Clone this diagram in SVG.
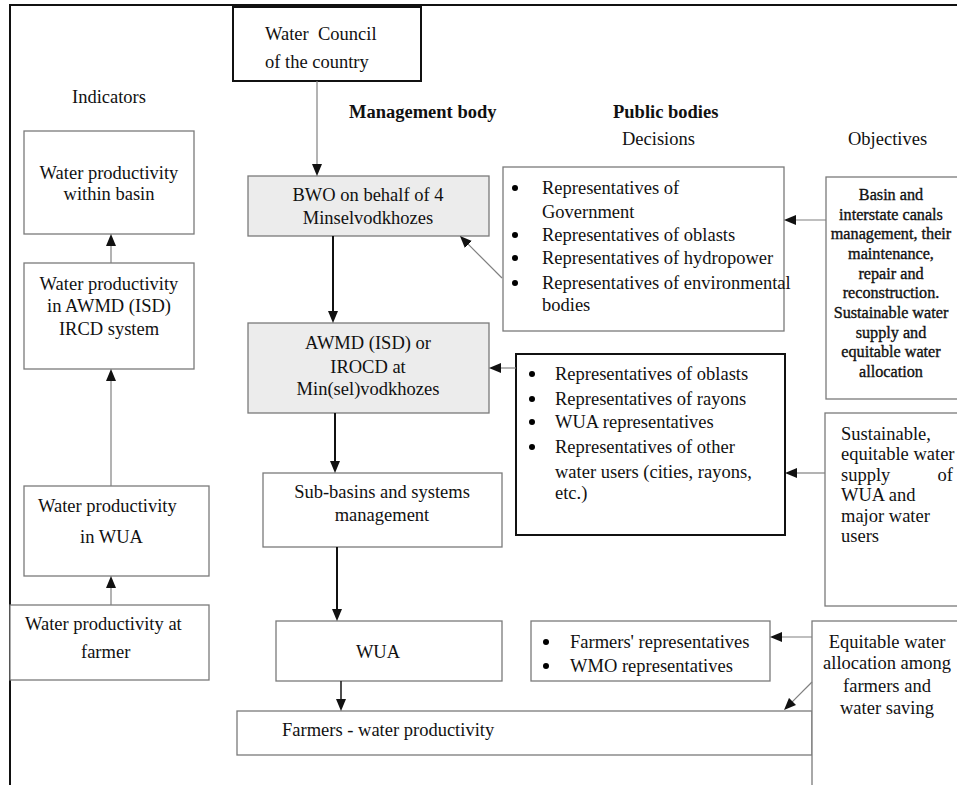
<svg xmlns="http://www.w3.org/2000/svg" width="957" height="785" viewBox="0 0 957 785">
<style>
text{font-family:"Liberation Serif","Times New Roman",serif;font-size:18.5px;fill:#111}
.b{font-weight:bold}
.m{text-anchor:middle}
.e{text-anchor:end}
.obj{font-size:16.2px;text-anchor:middle;stroke:#111;stroke-width:0.35}
.box{fill:#fff;stroke:#7a7a7a;stroke-width:1.3}
.gbox{fill:#ececec;stroke:#7a7a7a;stroke-width:1.3}
.kbox{fill:#fff;stroke:#111;stroke-width:2}
.thin{stroke:#808080;stroke-width:1.2;fill:none}
.thick{stroke:#111;stroke-width:2;fill:none}
.mid{stroke:#222;stroke-width:1.6;fill:none}
</style>
<defs>
<marker id="ah" viewBox="0 0 12 10" markerWidth="12" markerHeight="10" refX="4" refY="5" orient="auto" markerUnits="userSpaceOnUse">
<path d="M0,0 L12,5 L0,10 z" fill="#111"/>
</marker>
</defs>
<rect width="957" height="785" fill="#fff"/>
<g id="frame">
<line x1="10" y1="5" x2="957" y2="5" stroke="#111" stroke-width="2"/>
<line x1="10" y1="4" x2="10" y2="785" stroke="#111" stroke-width="2"/>
</g>
<g id="headings">
<text x="72" y="103">Indicators</text>
<text x="349" y="118" class="b">Management body</text>
<text x="613" y="118" class="b">Public bodies</text>
<text x="622" y="145">Decisions</text>
<text x="848" y="145">Objectives</text>
</g>
<g id="council">
<rect x="233" y="7" width="188" height="74" class="kbox"/>
<text x="265" y="40" xml:space="preserve">Water  Council</text>
<text x="265" y="68">of the country</text>
</g>
<g id="ind-basin">
<rect x="24" y="131" width="170" height="103" class="box"/>
<text x="109" y="179" class="m">Water productivity</text>
<text x="109" y="200" class="m">within basin</text>
</g>
<g id="ind-awmd">
<rect x="24" y="263" width="170" height="106" class="box"/>
<text x="109" y="290" class="m">Water productivity</text>
<text x="109" y="312" class="m">in AWMD (ISD)</text>
<text x="109" y="335" class="m">IRCD system</text>
</g>
<g id="ind-wua">
<rect x="24" y="486" width="185" height="90" class="box"/>
<text x="38" y="512">Water productivity</text>
<text x="80" y="543">in WUA</text>
</g>
<g id="ind-farmer">
<rect x="10" y="605" width="199" height="75" class="box"/>
<text x="25" y="630">Water productivity at</text>
<text x="81" y="658">farmer</text>
</g>
<g id="bwo">
<rect x="248" y="176" width="241" height="60" class="gbox"/>
<text x="368" y="201" class="m">BWO on behalf of 4</text>
<text x="368" y="224" class="m">Minselvodkhozes</text>
</g>
<g id="awmd">
<rect x="248" y="323" width="241" height="90" class="gbox"/>
<text x="368" y="349" class="m">AWMD (ISD) or</text>
<text x="368" y="373" class="m">IROCD at</text>
<text x="368" y="395" class="m">Min(sel)vodkhozes</text>
</g>
<g id="subbasins">
<rect x="263" y="473" width="239" height="74" class="box"/>
<text x="382" y="498" class="m">Sub-basins and systems</text>
<text x="382" y="521" class="m">management</text>
</g>
<g id="wua">
<rect x="276" y="621" width="226" height="60" class="box"/>
<text x="378" y="658" class="m">WUA</text>
</g>
<g id="farmers">
<rect x="237" y="711" width="575" height="44" class="box"/>
<text x="282" y="736">Farmers - water productivity</text>
</g>
<g id="dec1">
<rect x="503" y="167" width="281" height="164" class="box"/>
<circle cx="515" cy="188" r="3"/><circle cx="515" cy="235" r="3"/><circle cx="515" cy="258" r="3"/><circle cx="515" cy="283" r="3"/>
<text x="542" y="194">Representatives of</text>
<text x="542" y="218">Government</text>
<text x="542" y="241">Representatives of oblasts</text>
<text x="542" y="264">Representatives of hydropower</text>
<text x="542" y="289">Representatives of environmental</text>
<text x="542" y="311">bodies</text>
</g>
<g id="dec2">
<rect x="516" y="354" width="269" height="181" class="kbox"/>
<circle cx="532" cy="374" r="3"/><circle cx="532" cy="399" r="3"/><circle cx="532" cy="422" r="3"/><circle cx="532" cy="447" r="3"/>
<text x="555" y="380">Representatives of oblasts</text>
<text x="555" y="405">Representatives of rayons</text>
<text x="555" y="428">WUA representatives</text>
<text x="555" y="453">Representatives of other</text>
<text x="555" y="478">water users (cities, rayons,</text>
<text x="555" y="499">etc.)</text>
</g>
<g id="dec3">
<rect x="531" y="621" width="239" height="60" class="box"/>
<circle cx="546" cy="642" r="3"/><circle cx="546" cy="666" r="3"/>
<text x="570" y="648">Farmers' representatives</text>
<text x="570" y="672">WMO representatives</text>
</g>
<g id="obj1">
<rect x="826" y="177" width="140" height="222" class="box"/>
<text x="891" y="200" class="obj">Basin and</text>
<text x="891" y="220" class="obj">interstate canals</text>
<text x="891" y="239" class="obj">management, their</text>
<text x="891" y="259" class="obj">maintenance,</text>
<text x="891" y="279" class="obj">repair and</text>
<text x="891" y="298" class="obj">reconstruction.</text>
<text x="891" y="318" class="obj">Sustainable water</text>
<text x="891" y="338" class="obj">supply and</text>
<text x="891" y="357" class="obj">equitable water</text>
<text x="891" y="377" class="obj">allocation</text>
</g>
<g id="obj2">
<rect x="825" y="413" width="140" height="193" class="box"/>
<text x="841" y="440">Sustainable,</text>
<text x="841" y="460">equitable water</text>
<text x="841" y="481">supply</text>
<text x="953" y="481" class="e">of</text>
<text x="841" y="501">WUA and</text>
<text x="841" y="522">major water</text>
<text x="841" y="542">users</text>
</g>
<g id="obj3">
<rect x="812" y="621" width="150" height="170" class="box"/>
<text x="887" y="648" class="m">Equitable water</text>
<text x="887" y="669" class="m">allocation among</text>
<text x="887" y="692" class="m">farmers and</text>
<text x="887" y="714" class="m">water saving</text>
</g>
<g id="connectors">
<line x1="317" y1="81" x2="317" y2="168" class="thin" marker-end="url(#ah)"/>
<line x1="333" y1="236" x2="333" y2="315" class="thick" marker-end="url(#ah)"/>
<line x1="335" y1="413" x2="335" y2="465" class="thick" marker-end="url(#ah)"/>
<line x1="337" y1="547" x2="337" y2="613" class="thick" marker-end="url(#ah)"/>
<line x1="341" y1="681" x2="341" y2="703" class="mid" marker-end="url(#ah)"/>
<line x1="502" y1="278" x2="465.6" y2="241.6" class="thin" marker-end="url(#ah)"/>
<line x1="826" y1="220" x2="792" y2="220" class="thin" marker-end="url(#ah)"/>
<line x1="516" y1="368" x2="497" y2="368" class="thin" marker-end="url(#ah)"/>
<line x1="825" y1="473" x2="793" y2="473" class="thin" marker-end="url(#ah)"/>
<line x1="812" y1="637" x2="778" y2="637" class="thin" marker-end="url(#ah)"/>
<line x1="812" y1="682" x2="789.7" y2="704.3" class="thin" marker-end="url(#ah)"/>
<line x1="111" y1="263" x2="111" y2="242" class="thin" marker-end="url(#ah)"/>
<line x1="111" y1="486" x2="111" y2="377" class="thin" marker-end="url(#ah)"/>
<line x1="111" y1="605" x2="111" y2="584" class="thin" marker-end="url(#ah)"/>
</g>
</svg>
